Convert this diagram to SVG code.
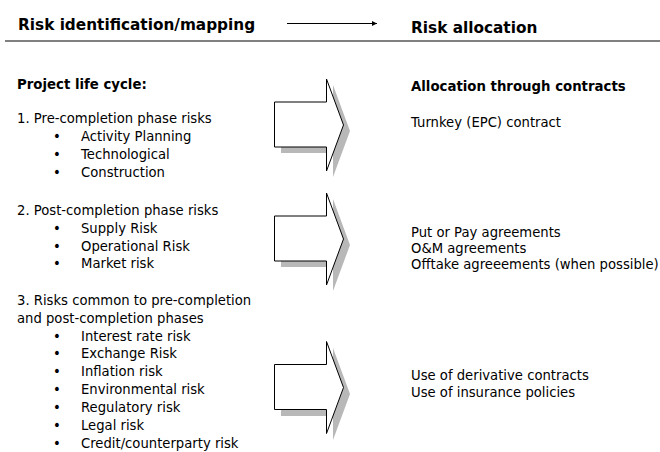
<svg xmlns="http://www.w3.org/2000/svg" width="660" height="452" viewBox="0 0 660 452">
<defs>
<style>
text{font-family:"DejaVu Sans","Liberation Sans",sans-serif;font-size:13.2px;fill:#000}
.h{font-weight:bold;font-size:15.3px}
.b{font-weight:bold;font-size:13.3px}
.arrow{fill:#fff;stroke:#000;stroke-width:1}
.shadow{fill:#b8b8b8;stroke:none}
</style>
<marker id="ah" viewBox="0 0 10 10" refX="10" refY="5" markerWidth="5" markerHeight="5" orient="auto"><path d="M0,0 L10,5 L0,10 z" fill="#000"/></marker>
<path id="blk" d="M0,23 H52 V0 L69,46 L52,92 V68 H0 Z"/>
</defs>
<rect width="660" height="452" fill="#fff"/>
<g id="header">
<text class="h" x="18" y="30">Risk identification/mapping</text>
<text class="h" x="411" y="32.5">Risk allocation</text>
<line x1="5" y1="41" x2="660" y2="41" stroke="#808080" stroke-width="2"/>
</g>
<g id="connectors">
<line x1="287" y1="23.5" x2="377" y2="23.5" stroke="#000" stroke-width="1" marker-end="url(#ah)"/>
</g>
<g id="arrow1">
<use href="#blk" class="shadow" x="281" y="85"/>
<use href="#blk" class="arrow" x="274.5" y="79"/>
</g>
<g id="arrow2">
<use href="#blk" class="shadow" x="281" y="199"/>
<use href="#blk" class="arrow" x="274.5" y="193"/>
</g>
<g id="arrow3">
<use href="#blk" class="shadow" x="281" y="348"/>
<use href="#blk" class="arrow" x="274.5" y="341.5"/>
</g>
<g id="left">
<text class="b" x="17" y="89">Project life cycle:</text>
<text x="17" y="123">1. Pre-completion phase risks</text>
<text x="53" y="141">•</text><text x="81" y="141">Activity Planning</text>
<text x="53" y="159">•</text><text x="81" y="159">Technological</text>
<text x="53" y="177">•</text><text x="81" y="177">Construction</text>
<text x="17" y="215">2. Post-completion phase risks</text>
<text x="53" y="233">•</text><text x="81" y="233">Supply Risk</text>
<text x="53" y="251">•</text><text x="81" y="251">Operational Risk</text>
<text x="53" y="268">•</text><text x="81" y="268">Market risk</text>
<text x="17" y="305">3. Risks common to pre-completion</text>
<text x="17" y="323">and post-completion phases</text>
<text x="53" y="341">•</text><text x="81" y="341">Interest rate risk</text>
<text x="53" y="358">•</text><text x="81" y="358">Exchange Risk</text>
<text x="53" y="376">•</text><text x="81" y="376">Inflation risk</text>
<text x="53" y="394">•</text><text x="81" y="394">Environmental risk</text>
<text x="53" y="412">•</text><text x="81" y="412">Regulatory risk</text>
<text x="53" y="430">•</text><text x="81" y="430">Legal risk</text>
<text x="53" y="448">•</text><text x="81" y="448">Credit/counterparty risk</text>
</g>
<g id="right">
<text class="b" x="411" y="91">Allocation through contracts</text>
<text x="411" y="127">Turnkey (EPC) contract</text>
<text x="411" y="237">Put or Pay agreements</text>
<text x="411" y="253">O&amp;M agreements</text>
<text x="411" y="269">Offtake agreeements (when possible)</text>
<text x="411" y="380">Use of derivative contracts</text>
<text x="411" y="397">Use of insurance policies</text>
</g>
</svg>
